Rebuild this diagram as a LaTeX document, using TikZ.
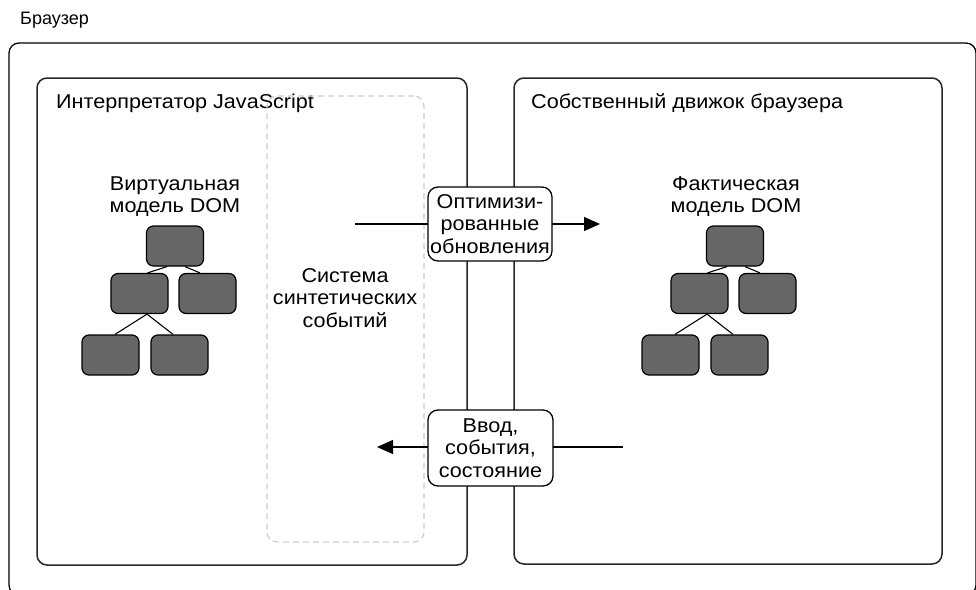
\documentclass[tikz,border=0pt]{standalone}
\usepackage{fontspec}
\setmainfont{Liberation Sans}[FakeStretch=1.08]
\newfontfamily\plainsans{Liberation Sans}
\usetikzlibrary{arrows.meta,calc}
\definecolor{domfill}{HTML}{666666}
\definecolor{dashgray}{HTML}{CCCCCC}
\begin{document}
\begin{tikzpicture}[x=1pt,y=-1pt,
  font=\fontsize{20}{22.5}\selectfont,
  outerbox/.style={draw=black,line width=1.3pt,rounded corners=10pt,minimum width=967pt,minimum height=552pt,inner sep=0pt},
  panel/.style={draw=black!85,line width=1.5pt,rounded corners=10pt,inner sep=0pt},
  dashbox/.style={draw=dashgray,dash pattern=on 6pt off 4pt,line width=1.2pt,rounded corners=10pt,inner sep=0pt},
  treebox/.style={draw=black,fill=domfill,line width=1.2pt,rounded corners=7pt,minimum width=57pt,minimum height=40pt,inner sep=0pt},
  treeline/.style={draw=black,line width=1.1pt},
  lbl/.style={draw=black,fill=white,line width=1.3pt,rounded corners=10pt,align=center,inner sep=1pt},
  txt/.style={inner sep=0pt,align=center},
  flow/.style={draw=black,line width=1.2pt,-{Triangle[length=16pt,width=14pt]}}
]
\useasboundingbox (0,0) rectangle (976,589);
\node[outerbox] (browser) at (492.5,319) {};
\node[txt,anchor=west,font=\plainsans\fontsize{18}{22}\selectfont] (browsert) at (20,20) {Браузер};
\node[panel,minimum width=430pt,minimum height=487pt] (js) at (252,321.5) {};
\node[panel,minimum width=428pt,minimum height=486pt] (eng) at (728,321) {};
\node[txt,anchor=west] (jst) at (56,103) {Интерпретатор JavaScript};
\node[txt,anchor=west] (engt) at (531,103) {Собственный движок браузера};
\node[dashbox,minimum width=157pt,minimum height=446pt] (syn) at (345.5,319) {};
\node[txt] (synt) at (345,298) {Система\\синтетических\\событий};
% virtual DOM
\node[txt] (vt) at (175,196.5) {Виртуальная\\модель DOM};
\node[treebox] (vtop) at (175,246) {};
\node[treebox] (vml) at (139.5,293.5) {};
\node[treebox] (vmr) at (207.5,293.5) {};
\node[treebox] (vbl) at (110.5,355) {};
\node[treebox] (vbr) at (179.5,355) {};
\draw[treeline] ($(vtop.south)+(-8,0)$) -- ($(vml.north)+(8,0)$);
\draw[treeline] ($(vtop.south)+(10,0)$) -- ($(vmr.north)+(-7.5,0)$);
\draw[treeline] ($(vml.south)+(7.5,0)$) -- ($(vbl.north)+(4.5,0)$);
\draw[treeline] ($(vml.south)+(7.5,0)$) -- ($(vbr.north)+(-6.5,0)$);
% real DOM
\node[txt] (rt) at (736,196.5) {Фактическая\\модель DOM};
\node[treebox] (rtop) at (735,246) {};
\node[treebox] (rml) at (699.5,293.5) {};
\node[treebox] (rmr) at (767.5,293.5) {};
\node[treebox] (rbl) at (670.5,355) {};
\node[treebox] (rbr) at (739.5,355) {};
\draw[treeline] ($(rtop.south)+(-8,0)$) -- ($(rml.north)+(8,0)$);
\draw[treeline] ($(rtop.south)+(10,0)$) -- ($(rmr.north)+(-7.5,0)$);
\draw[treeline] ($(rml.south)+(7.5,0)$) -- ($(rbl.north)+(4.5,0)$);
\draw[treeline] ($(rml.south)+(7.5,0)$) -- ($(rbr.north)+(-6.5,0)$);
% flows
\coordinate (o1) at (355,224);
\coordinate (o2) at (600,224);
\draw[flow] (o1) -- (o2);
\node[lbl,minimum width=124pt,minimum height=74pt] (opt) at (490,224) {Оптимизи-\\рованные\\обновления};
\coordinate (i1) at (623,447);
\coordinate (i2) at (377,447);
\draw[flow] (i1) -- (i2);
\node[lbl,minimum width=125pt,minimum height=76pt] (inp) at (490.5,448) {Ввод,\\события,\\состояние};
\end{tikzpicture}
\end{document}
